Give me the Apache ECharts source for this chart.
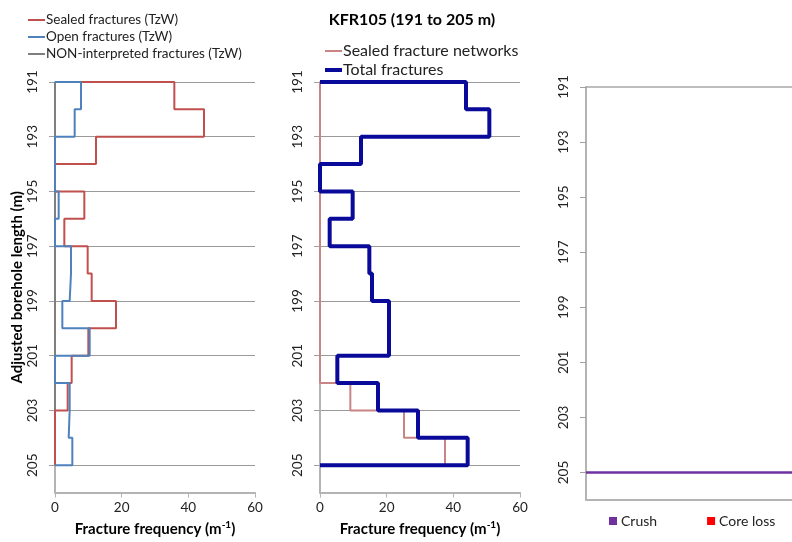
<!DOCTYPE html>
<html><head><meta charset="utf-8">
<script src="https://cdn.jsdelivr.net/npm/echarts@6/dist/echarts.min.js"></script>
<style>html,body{margin:0;padding:0;background:#fff}#c{width:792px;height:542px}</style>
</head><body><div id="c"></div>
<script>
// Depth intervals (top of each 1 m section, metres)
const depthTops = [191,192,193,194,195,196,197,198,199,200,201,202,203,204];
const intervalLength = 1;
// Left panel (TzW), fractures per metre
const sealedTzW    = [35.8,44.7,12.3,0,8.8,2.8,9.8,11.0,18.3,10.0,5.0,3.8,0,0];
const openTzW      = [7.8,5.9,0,0,1.1,0,4.8,4.4,2.2,10.4,0,4.4,4.1,5.2];
const nonInterpTzW = [0,0,0,0,0,0,0,0,0,0,0,0,0,0];
// Middle panel
const sealedNetworks = [0,0,0,0,0,0,0,0,0,0,0,9.1,25.2,37.5];
const totalFractures = [43.8,50.8,12.3,0,9.8,2.9,14.8,15.6,20.7,20.7,5.2,17.4,29.4,44.3];
// Right panel
const crushDepths = [205];
const coreLossDepths = [];
// Axes
const depthMin = 191, depthMax = 206, depthStep = 2;
const freqMin = 0, freqMax = 60, freqStep = 20;

const FONT = 'Lato, "Liberation Sans", sans-serif';
const THIN_ICON = 'path://M0,0H17V2H0Z';
const THICK_ICON = 'path://M0,0H17V4H0Z';

function steps(vals){
  const pts = [[0, depthTops[0]]];
  vals.forEach((v,i)=>{ pts.push([v, depthTops[i]]); pts.push([v, depthTops[i] + intervalLength]); });
  pts.push([0, depthTops[depthTops.length-1] + intervalLength]);
  return pts;
}

const gridBox = [
  {left:55, top:82, width:200, height:414},
  {left:320, top:82, width:200, height:414},
  {left:586, top:87, width:300, height:413}
];

const axisLineStyle = {color:'#b4b4b4', width:2};
const xName = '{a|Fracture frequency (m}{s|-1}{a|)}';
const xNameStyle = {rich:{
  a:{fontSize:15, fontWeight:'bold', color:'#000', fontFamily:FONT, lineHeight:20},
  s:{fontSize:10, fontWeight:'bold', color:'#000', fontFamily:FONT, verticalAlign:'top', lineHeight:20}
}};

function freqAxis(gi){
  return {type:'value', gridIndex:gi, min:freqMin, max:freqMax, interval:freqStep,
    name:xName, nameLocation:'middle', nameGap:24, nameTextStyle:xNameStyle,
    axisLine:{show:true, lineStyle:axisLineStyle},
    axisTick:{show:true, length:5, lineStyle:{color:'#b4b4b4'}},
    axisLabel:{color:'#222', fontSize:13.5, fontFamily:FONT, margin:8},
    splitLine:{show:false}};
}
function depthAxis(gi, split){
  return {type:'value', gridIndex:gi, inverse:true, min:depthMin, max:depthMax, interval:depthStep,
    axisLine:{show:true, onZero:false, lineStyle:axisLineStyle},
    axisTick:{show:true, length:6, lineStyle:{color:'#a0a0a0'}},
    axisLabel:{color:'#222', fontSize:13.5, fontFamily:FONT, rotate:90, margin:15, showMaxLabel:false},
    splitLine:{show:split, lineStyle:{color:'#9a9a9a', width:1}}};
}

const yAxes = [depthAxis(0,true), depthAxis(1,true), depthAxis(2,false)];
yAxes[0].name = 'Adjusted borehole length (m)';
yAxes[0].nameLocation = 'middle';
yAxes[0].nameGap = 30;
yAxes[0].nameTextStyle = {fontSize:15, fontWeight:'bold', color:'#000', fontFamily:FONT};

const lineBase = {type:'line', symbol:'none', showSymbol:false, clip:false, animation:false, silent:true};

const option = {
  animation:false,
  backgroundColor:'#fff',
  title:{text:'KFR105 (191 to 205 m)', left:407, textAlign:'center', top:7,
    textStyle:{fontSize:16, fontWeight:'bold', color:'#000', fontFamily:FONT}},
  grid: gridBox,
  xAxis:[
    freqAxis(0), freqAxis(1),
    {type:'value', gridIndex:2, min:0, max:1, axisLine:{show:true, lineStyle:axisLineStyle},
      axisTick:{show:false}, axisLabel:{show:false}, splitLine:{show:false}},
    {type:'value', gridIndex:2, position:'top', min:0, max:1, axisLine:{show:true, lineStyle:{color:'#a8a8a8', width:1.5}},
      axisTick:{show:false}, axisLabel:{show:false}, splitLine:{show:false}}
  ],
  yAxis: yAxes,
  legend:[
    {data:[{name:'Sealed fractures (TzW)', icon:THIN_ICON},
           {name:'Open fractures (TzW)', icon:THIN_ICON},
           {name:'NON-interpreted fractures (TzW)', icon:THIN_ICON}],
      orient:'vertical', left:28, top:13, padding:0, itemGap:3, itemWidth:17, itemHeight:14,
      textStyle:{fontSize:13.5, color:'#222', fontFamily:FONT, padding:[0,0,0,-4]}},
    {data:[{name:'Sealed fracture networks', icon:THIN_ICON},
           {name:'Total fractures', icon:THICK_ICON}],
      orient:'vertical', left:325, top:43, padding:0, itemGap:3, itemWidth:17, itemHeight:17,
      textStyle:{fontSize:16, color:'#222', fontFamily:FONT, padding:[0,0,0,-4]}},
    {data:['Crush','Core loss'], orient:'horizontal', left:609, top:514, padding:0, itemGap:50,
      itemWidth:8, itemHeight:8, icon:'rect',
      textStyle:{fontSize:14, color:'#222', fontFamily:FONT, padding:[0,0,0,-1]}}
  ],
  series:[
    Object.assign({}, lineBase, {name:'Sealed fractures (TzW)', xAxisIndex:0, yAxisIndex:0, z:3,
      data:steps(sealedTzW), color:'#c0504d', lineStyle:{color:'#c0504d', width:2}}),
    Object.assign({}, lineBase, {name:'Open fractures (TzW)', xAxisIndex:0, yAxisIndex:0, z:4,
      data:steps(openTzW), color:'#4f81bd', lineStyle:{color:'#4f81bd', width:2}}),
    Object.assign({}, lineBase, {name:'NON-interpreted fractures (TzW)', xAxisIndex:0, yAxisIndex:0, z:2,
      data:steps(nonInterpTzW), color:'#7f7f7f', lineStyle:{color:'#7f7f7f', width:2}}),
    Object.assign({}, lineBase, {name:'Sealed fracture networks', xAxisIndex:1, yAxisIndex:1, z:3,
      data:steps(sealedNetworks), color:'#c98585', lineStyle:{color:'#c98585', width:2}}),
    Object.assign({}, lineBase, {name:'Total fractures', xAxisIndex:1, yAxisIndex:1, z:4,
      data:steps(totalFractures), color:'#0a0a9a', lineStyle:{color:'#0a0a9a', width:4}}),
    Object.assign({}, lineBase, {name:'Crush', xAxisIndex:2, yAxisIndex:2, z:3, data:[],
      color:'#7030a0',
      markLine:{silent:true, symbol:'none', label:{show:false}, animation:false,
        lineStyle:{color:'#7030a0', width:2.5, type:'solid'},
        data:crushDepths.map(d=>({yAxis:d}))}}),
    Object.assign({}, lineBase, {name:'Core loss', xAxisIndex:2, yAxisIndex:2, z:3, data:[],
      color:'#ff0000',
      markLine:{silent:true, symbol:'none', label:{show:false}, animation:false,
        lineStyle:{color:'#ff0000', width:2.5, type:'solid'},
        data:coreLossDepths.map(d=>({yAxis:d}))}})
  ]
};
const chart = echarts.init(document.getElementById('c'), null, {renderer:'canvas'});
chart.setOption(option);
</script></body></html>
